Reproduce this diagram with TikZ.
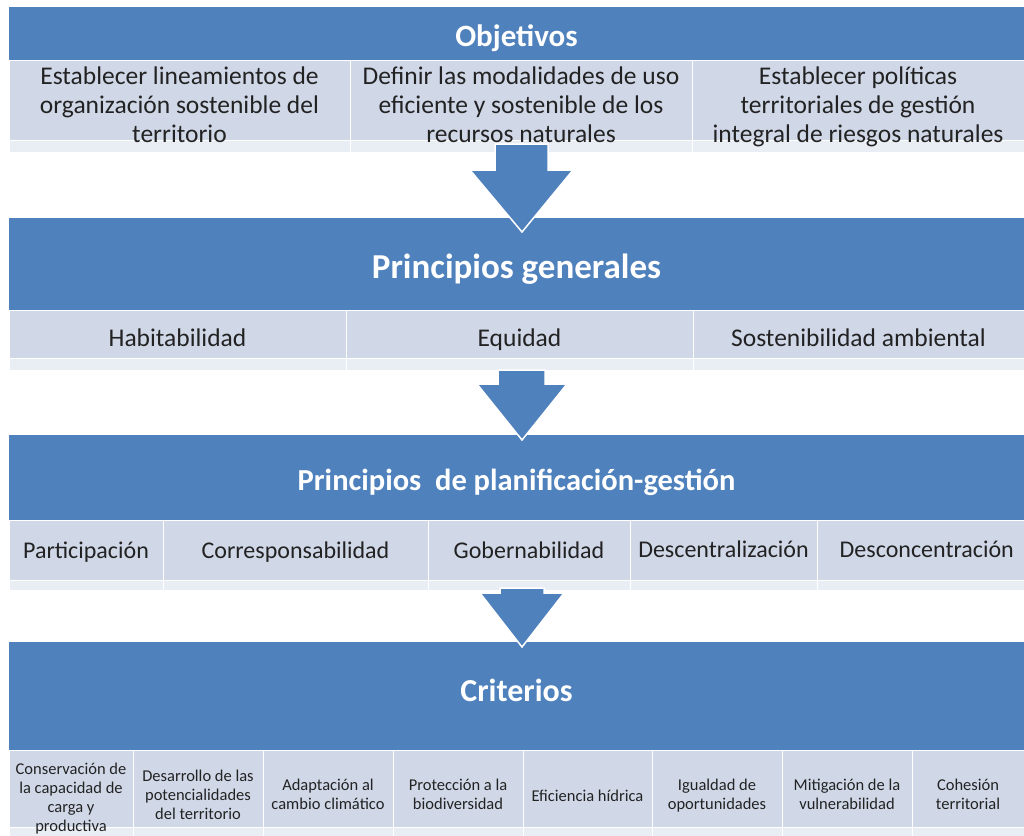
\documentclass[tikz,border=0pt]{standalone}
\usepackage{fontspec}
\setmainfont{Carlito}
\definecolor{hdr}{HTML}{4F81BD}
\definecolor{cellc}{HTML}{D0D8E8}
\definecolor{stripc}{HTML}{E9EDF4}
\definecolor{txt}{HTML}{222222}
\begin{document}
\begin{tikzpicture}[x=1pt,y=-1pt,
  band/.style={rectangle,fill=hdr,inner sep=0pt},
  htext/.style={inner sep=0pt,text=white,font=\bfseries,align=center},
  cellbox/.style={rectangle,fill=cellc,draw=white,line width=1pt,inner sep=0pt},
  ctext/.style={inner sep=0pt,text=txt,align=center,execute at begin node=\strut,execute at end node=\strut},
  stripbox/.style={rectangle,fill=stripc,draw=white,line width=1pt,inner sep=0pt},
  fatarrow/.style={fill=hdr,draw=white,line width=1.5pt,line join=miter}
]
\useasboundingbox (0,0) rectangle (1024,835);
\fill[white] (0,0) rectangle (1024,835);

% ---------- Objetivos
\node[band,minimum width=1015,minimum height=53] (b1) at (516.5,33.5) {};
\node[htext,font=\bfseries\fontsize{31}{34}\selectfont] (b1t) at ([yshift=-5]b1.center) {Objetivos};
\foreach \xa/\xb/\n in {9/350/a,350/692/b,692/1024/c}{
  \node[stripbox,minimum width=\xb-\xa,minimum height=12] (s1\n) at ({(\xa+\xb)/2},146) {};
}
\tikzset{objt/.style={ctext,font=\fontsize{25.5}{29}\selectfont}}
\node[cellbox,minimum width=341,minimum height=80] (o1) at (179.5,100) {};
\node[cellbox,minimum width=342,minimum height=80] (o2) at (521,100) {};
\node[cellbox,minimum width=332,minimum height=80] (o3) at (858,100) {};
\node[objt] (o1t) at ([yshift=-9]o1.center) {Establecer lineamientos de\\organización sostenible del\\territorio};
\node[objt] (o2t) at ([yshift=-9]o2.center) {Definir las modalidades de uso\\eficiente y sostenible de los\\recursos naturales};
\node[objt] (o3t) at ([yshift=-9]o3.center) {Establecer políticas\\territoriales de gestión\\integral de riesgos naturales};

% ---------- Principios generales
\node[band,minimum width=1015,minimum height=92] (b2) at (516.5,264) {};
\node[htext,font=\bfseries\fontsize{35}{40}\selectfont] (b2t) at ([yshift=-5]b2.center) {Principios generales};
\foreach \xa/\xb/\n in {9/346/a,346/693/b,693/1024/c}{
  \node[stripbox,minimum width=\xb-\xa,minimum height=12] (s2\n) at ({(\xa+\xb)/2},364) {};
}
\tikzset{gent/.style={ctext,font=\fontsize{25.5}{29}\selectfont}}
\node[cellbox,minimum width=337,minimum height=48] (g1) at (177.5,334) {};
\node[cellbox,minimum width=347,minimum height=48] (g2) at (519.5,334) {};
\node[cellbox,minimum width=331,minimum height=48] (g3) at (858.5,334) {};
\node[gent] (g1t) at ([yshift=-7]g1.center) {Habitabilidad};
\node[gent] (g2t) at ([yshift=-7]g2.center) {Equidad};
\node[gent] (g3t) at ([yshift=-7]g3.center) {Sostenibilidad ambiental};

% ---------- Principios de planificacion-gestion
\node[band,minimum width=1015,minimum height=85] (b3) at (516.5,477.5) {};
\node[htext,font=\bfseries\fontsize{30.5}{34}\selectfont] (b3t) at ([yshift=-5]b3.center) {Principios\ \ de planificación-gestión};
\foreach \xa/\xb/\n in {9/163/a,163/428/b,428/630/c,630/817/d,817/1024/e}{
  \node[stripbox,minimum width=\xb-\xa,minimum height=10] (s3\n) at ({(\xa+\xb)/2},585) {};
}
\tikzset{plant/.style={ctext,font=\fontsize{24}{28}\selectfont}}
\node[cellbox,minimum width=154,minimum height=60] (p1) at (86,550) {};
\node[cellbox,minimum width=265,minimum height=60] (p2) at (295.5,550) {};
\node[cellbox,minimum width=202,minimum height=60] (p3) at (529,550) {};
\node[cellbox,minimum width=187,minimum height=60] (p4) at (723.5,550) {};
\node[cellbox,minimum width=207,minimum height=60] (p5) at (920.5,550) {};
\node[plant] (p1t) at ([yshift=-3]p1.center) {Participación};
\node[plant] (p2t) at ([yshift=-3]p2.center) {Corresponsabilidad};
\node[plant] (p3t) at ([yshift=-3]p3.center) {Gobernabilidad};
\node[plant] (p4t) at ([yshift=-2]p4.center) {Descentralización};
\node[plant,anchor=west] (p5t) at ([xshift=23,yshift=-2]p5.west) {Desconcentración};

% ---------- Criterios
\node[band,minimum width=1015,minimum height=108] (b4) at (516.5,696) {};
\node[htext,font=\bfseries\fontsize{32}{36}\selectfont] (b4t) at ([yshift=6]b4.center) {Criterios};
\foreach \xa/\xb/\n in {9/133/a,133/263/b,263/393/c,393/523/d,523/652/e,652/782/f,782/912/g,912/1024/h}{
  \node[stripbox,minimum width=\xb-\xa,minimum height=10] (s4\n) at ({(\xa+\xb)/2},832) {};
}
\tikzset{crit/.style={cellbox,minimum height=77},
         critt/.style={ctext,font=\fontsize{16.5}{19}\selectfont}}
\node[crit,minimum width=124] (c1) at (71,788.5) {};
\node[crit,minimum width=130] (c2) at (198,788.5) {};
\node[crit,minimum width=130] (c3) at (328,788.5) {};
\node[crit,minimum width=130] (c4) at (458,788.5) {};
\node[crit,minimum width=129] (c5) at (587.5,788.5) {};
\node[crit,minimum width=130] (c6) at (717,788.5) {};
\node[crit,minimum width=130] (c7) at (847,788.5) {};
\node[crit,minimum width=112] (c8) at (968,788.5) {};
\node[critt] (c1t) at ([yshift=-12]c1.center) {Conservación de\\la capacidad de\\carga y\\productiva};
\node[critt] (c2t) at ([yshift=-9]c2.center) {Desarrollo de las\\potencialidades\\del territorio};
\node[critt] (c3t) at ([yshift=-9]c3.center) {Adaptación al\\cambio climático};
\node[critt] (c4t) at ([yshift=-9]c4.center) {Protección a la\\biodiversidad};
\node[critt] (c5t) at ([yshift=-9]c5.center) {Eficiencia hídrica};
\node[critt] (c6t) at ([yshift=-9]c6.center) {Igualdad de\\oportunidades};
\node[critt] (c7t) at ([yshift=-9]c7.center) {Mitigación de la\\vulnerabilidad};
\node[critt] (c8t) at ([yshift=-9]c8.center) {Cohesión\\territorial};

% ---------- Fat arrows
\draw[fatarrow] (495,144) -- (548,144) -- (548,170) -- (573,170) -- (522,232) -- (470,170) -- (495,170) -- cycle;
\draw[fatarrow] (498,370) -- (545,370) -- (545,384) -- (567,384) -- (522,440) -- (477,384) -- (498,384) -- cycle;
\draw[fatarrow] (500,588) -- (544,588) -- (544,593) -- (564,593) -- (522,647) -- (480,593) -- (500,593) -- cycle;
\end{tikzpicture}
\end{document}
